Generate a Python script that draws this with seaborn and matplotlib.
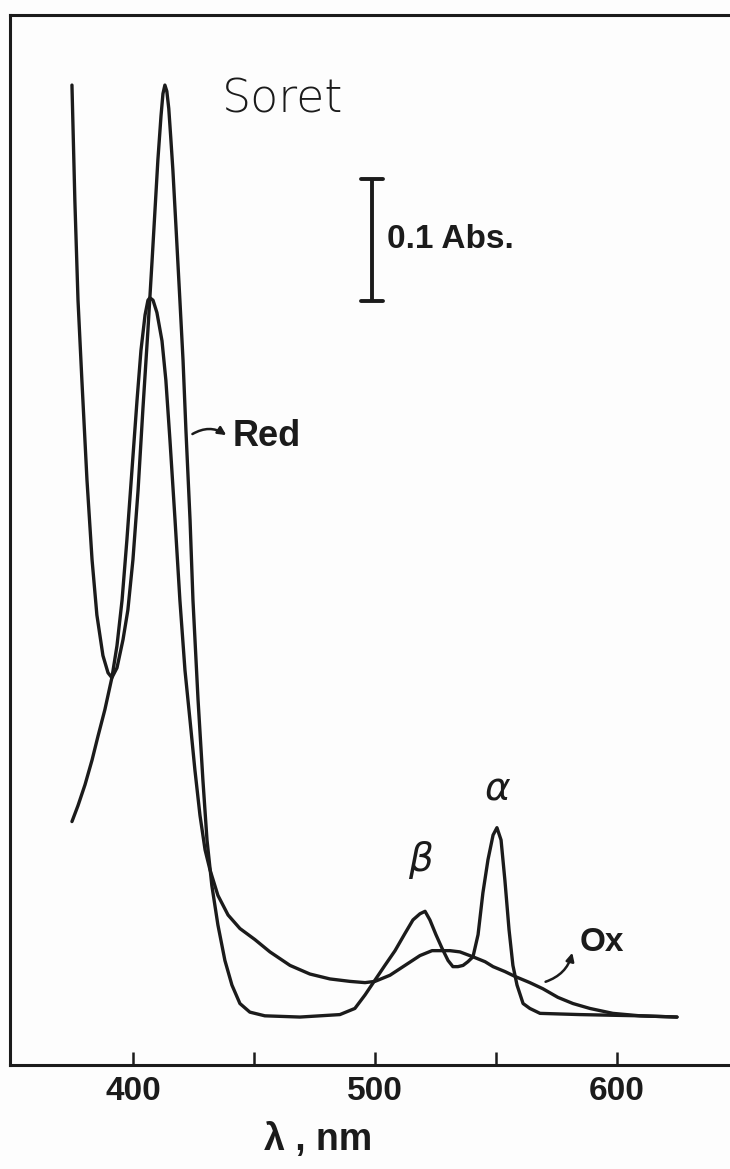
import matplotlib
matplotlib.use("Agg")
import matplotlib.pyplot as plt
import numpy as np
import pandas as pd
import seaborn as sns

# ---------------- data ----------------
red_nm = [374.8, 376.0, 377.3, 378.9, 381.0, 383.1, 385.1, 387.6, 389.7, 391.3,
          393.4, 395.9, 397.9, 400.0, 402.1, 404.1, 406.2, 407.9, 409.1, 410.3,
          411.6, 412.4, 413.2, 414.0, 414.8, 415.6, 416.5, 417.8, 419.4, 420.7,
          421.9, 423.6, 424.8, 426.9, 428.9, 430.6, 432.6, 435.1, 438.0, 440.9,
          444.2, 448.3, 454.5, 469.0, 485.5, 491.7, 495.9, 500.0, 504.1, 508.3,
          512.4, 515.7, 518.6, 520.7, 522.7, 525.2, 527.7, 530.2, 532.2, 534.3,
          536.4, 538.4, 540.5, 542.6, 544.6, 546.7, 548.8, 550.4, 552.1, 553.7,
          555.4, 557.0, 558.7, 561.2, 564.0, 568.2, 584.7, 609.5, 624.8]
red_abs = [0.797, 0.703, 0.622, 0.557, 0.476, 0.411, 0.366, 0.333, 0.319, 0.315,
           0.323, 0.346, 0.370, 0.411, 0.467, 0.533, 0.598, 0.654, 0.695, 0.736,
           0.772, 0.790, 0.797, 0.792, 0.778, 0.755, 0.728, 0.681, 0.622, 0.573,
           0.516, 0.443, 0.378, 0.297, 0.232, 0.183, 0.146, 0.114, 0.085, 0.065,
           0.050, 0.043, 0.040, 0.039, 0.041, 0.046, 0.057, 0.069, 0.081, 0.093,
           0.107, 0.118, 0.123, 0.125, 0.118, 0.106, 0.095, 0.085, 0.080, 0.080,
           0.081, 0.084, 0.088, 0.106, 0.140, 0.167, 0.187, 0.193, 0.183, 0.150,
           0.110, 0.081, 0.065, 0.050, 0.046, 0.042, 0.041, 0.040, 0.039]

ox_nm = [374.8, 377.3, 380.2, 383.1, 385.5, 388.4, 391.3, 393.4, 395.5, 397.5,
         399.6, 401.7, 403.3, 405.0, 406.2, 407.0, 408.3, 409.9, 412.0, 413.6,
         415.3, 417.4, 419.4, 421.5, 423.6, 425.6, 427.7, 429.8, 431.8, 435.1,
         439.3, 444.2, 450.4, 456.6, 464.9, 473.1, 481.4, 489.7, 495.9, 500.0,
         506.2, 512.4, 518.6, 523.6, 526.9, 531.0, 535.1, 540.5, 545.5, 548.8,
         553.7, 557.9, 564.0, 569.4, 575.6, 581.8, 588.8, 598.3, 609.5, 624.8]
ox_abs = [0.198, 0.211, 0.228, 0.248, 0.267, 0.289, 0.315, 0.341, 0.378, 0.427,
          0.484, 0.541, 0.581, 0.610, 0.622, 0.624, 0.622, 0.612, 0.589, 0.557,
          0.508, 0.443, 0.378, 0.321, 0.280, 0.240, 0.203, 0.175, 0.159, 0.138,
          0.122, 0.111, 0.102, 0.092, 0.081, 0.074, 0.070, 0.068, 0.067, 0.068,
          0.073, 0.081, 0.089, 0.093, 0.093, 0.093, 0.092, 0.088, 0.084, 0.080,
          0.076, 0.072, 0.067, 0.062, 0.055, 0.050, 0.046, 0.042, 0.040, 0.039]

tick_values = [400, 450, 500, 550, 600]
tick_labels = ["400", "", "500", "", "600"]
scale_bar_abs = 0.1

# ---------------- figure ----------------
sns.set_theme(style="white")
plt.rcParams["font.family"] = ["Liberation Sans", "DejaVu Sans"]

INK = "#1b1b1b"
fig = plt.figure(figsize=(7.3, 11.69), dpi=100)
fig.patch.set_facecolor("#fdfdfd")
ax = fig.add_axes([10 / 730, 104 / 1169, 720 / 730, 1050 / 1169])
ax.set_facecolor("#fdfdfd")

df = pd.concat([
    pd.DataFrame({"nm": red_nm, "abs": red_abs, "spectrum": "Red"}),
    pd.DataFrame({"nm": ox_nm, "abs": ox_abs, "spectrum": "Ox"}),
], ignore_index=True)

sns.lineplot(data=df, x="nm", y="abs", hue="spectrum",
             palette={"Red": INK, "Ox": INK}, estimator=None, sort=False,
             linewidth=2.4, legend=False, ax=ax)
for ln in ax.get_lines():
    ln.set_solid_joinstyle("round")

ax.set_xlim(349.2, 646.7)
ax.set_ylim(0, 0.854)

for side in ["left", "top", "bottom"]:
    ax.spines[side].set_visible(True)
    ax.spines[side].set_linewidth(2.2)
    ax.spines[side].set_color(INK)
ax.spines["right"].set_visible(False)

ax.set_xticks(tick_values)
ax.set_xticklabels(tick_labels)
ax.set_yticks([])
ax.tick_params(axis="x", direction="in", length=9.5, width=1.8, color=INK,
               pad=8, labelsize=24, labelcolor=INK, bottom=True)
for lab in ax.get_xticklabels():
    lab.set_fontweight("bold")

ax.set_xlabel("λ , nm", fontsize=27, fontweight="bold", color=INK, va="center")
ax.xaxis.set_label_coords((318 - 10) / 720, -(1140 - 1065) / 1050)
ax.set_ylabel("")

# Soret label
ax.text(462.0, 0.785, "Soret", fontsize=33, fontweight="light",
        family=["DejaVu Sans"], color=INK, ha="center", va="center")

# scale bar 0.1 Abs
bar_x = 498.8
bar_y0 = 0.621
ax.plot([bar_x, bar_x], [bar_y0, bar_y0 + scale_bar_abs], color=INK, lw=2.8,
        solid_capstyle="butt")
for yy in (bar_y0, bar_y0 + scale_bar_abs):
    ax.plot([bar_x - 4.4, bar_x + 4.6], [yy, yy], color=INK, lw=2.8,
            solid_capstyle="round")
ax.text(505.0, 0.671, "0.1 Abs.", fontsize=24, fontweight="bold", color=INK,
        ha="left", va="center")

# Red label
ax.annotate("", xy=(439.5, 0.511), xytext=(423.6, 0.512),
            arrowprops=dict(arrowstyle="-|>", color=INK, lw=1.8,
                            connectionstyle="arc3,rad=-0.35",
                            mutation_scale=12))
ax.text(441.3, 0.511, "Red", fontsize=26, fontweight="bold", color=INK,
        ha="left", va="center")

# Ox label
ax.annotate("", xy=(581.8, 0.0935), xytext=(569.4, 0.067),
            arrowprops=dict(arrowstyle="-|>", color=INK, lw=1.8,
                            connectionstyle="arc3,rad=0.3",
                            mutation_scale=12))
ax.text(584.7, 0.100, "Ox", fontsize=24, fontweight="bold", color=INK,
        ha="left", va="center")

# alpha / beta
ax.text(550.8, 0.224, "α", fontsize=28, style="italic", color=INK,
        family=["DejaVu Sans"], ha="center", va="center")
ax.text(518.6, 0.167, "β", fontsize=28, style="italic", color=INK,
        family=["DejaVu Sans"], ha="center", va="center")

fig.savefig("out.png", dpi=100, facecolor=fig.get_facecolor())
